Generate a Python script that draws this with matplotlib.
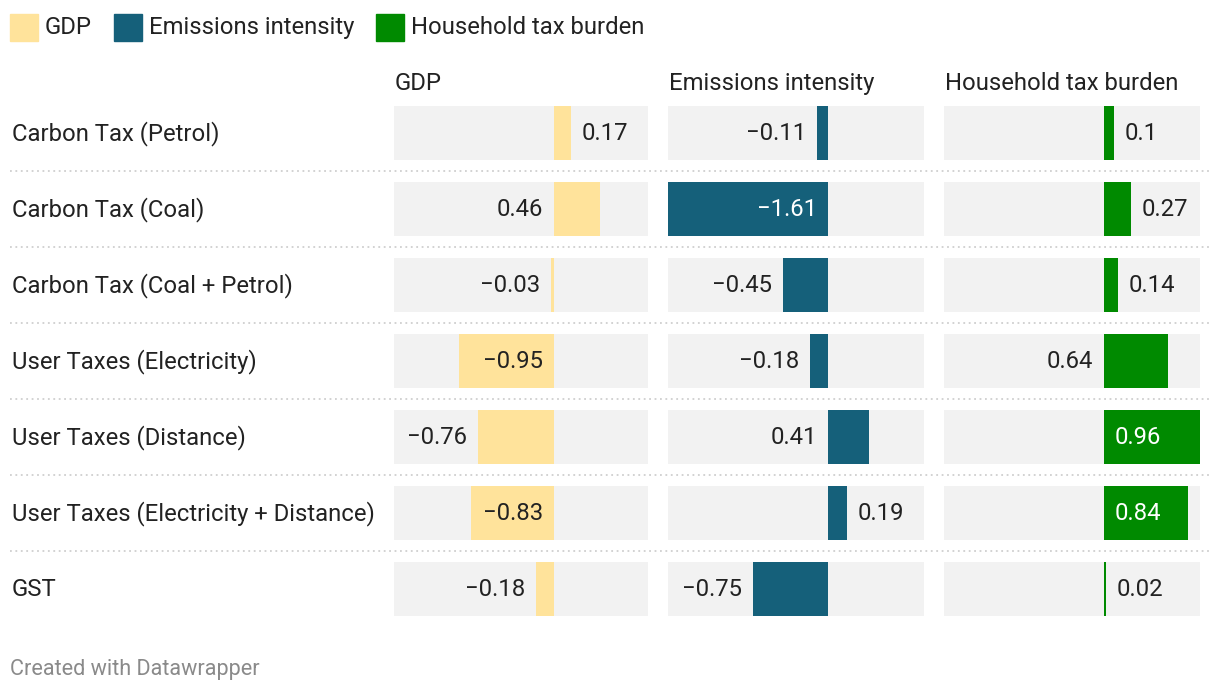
import matplotlib
matplotlib.use('Agg')
import matplotlib.pyplot as plt
from matplotlib.patches import Rectangle

categories = ["Carbon Tax (Petrol)", "Carbon Tax (Coal)", "Carbon Tax (Coal + Petrol)",
              "User Taxes (Electricity)", "User Taxes (Distance)",
              "User Taxes (Electricity + Distance)", "GST"]
series_names = ["GDP", "Emissions intensity", "Household tax burden"]
gdp = [0.17, 0.46, -0.03, -0.95, -0.76, -0.83, -0.18]
emissions = [-0.11, -1.61, -0.45, -0.18, 0.41, 0.19, -0.75]
household = [0.1, 0.27, 0.14, 0.64, 0.96, 0.84, 0.02]
series = [gdp, emissions, household]

colors = ['#FFE39B', '#15607A', '#008A00']
inside_text = ['#222222', '#ffffff', '#ffffff']
TEXT = '#222222'
BG = '#f2f2f2'
FONT = 'Roboto'
FS = 17.2

W, H = 1220, 694
fig = plt.figure(figsize=(W / 100, H / 100), dpi=100)
plt.rcParams['font.family'] = [FONT, 'DejaVu Sans']

def fx(px):
    return px / W

def fy(py):
    return 1 - py / H

top, bottom = 106, 616
pitch = 76
n = len(categories)
bar_h = 54 / pitch
base_off = 7 / pitch          # baseline offset below row centre
xmin = -1.60
ppu = 100.0                    # pixels per unit
panel_left = [394, 668, 944]
panel_w = [254, 256, 256]
ylim = (n - 1 + bar_h / 2, -bar_h / 2)

renderer = fig.canvas.get_renderer()

def text_w(s, fs=FS):
    t = fig.text(0, 0, s, fontsize=fs)
    w = t.get_window_extent(renderer).width
    t.remove()
    return w

# overlay axes for separators and row labels
ax0 = fig.add_axes([fx(10), fy(bottom), fx(1200), (bottom - top) / H])
ax0.set_xlim(0, 1200)
ax0.set_ylim(*ylim)
ax0.axis('off')
for i in range(n - 1):
    ax0.plot([0, 1200], [i + 0.5, i + 0.5], color='#cfcfcf', lw=1.3,
             linestyle=(0, (1, 2)), solid_capstyle='butt')
for i, c in enumerate(categories):
    ax0.text(2, i + base_off, c, fontsize=FS, color=TEXT, va='baseline', ha='left')

def fmt(v):
    s = f"{abs(v):g}"
    return ("\u2212" + s) if v < 0 else s

pad = 11
gap = 11
for k, (vals, name) in enumerate(zip(series, series_names)):
    xmax = xmin + panel_w[k] / ppu
    ax = fig.add_axes([fx(panel_left[k]), fy(bottom), panel_w[k] / W, (bottom - top) / H])
    ax.set_xlim(xmin, xmax)
    ax.set_ylim(*ylim)
    ax.axis('off')
    ys = list(range(n))
    ax.barh(ys, [xmax - xmin] * n, left=xmin, height=bar_h, color=BG, lw=0)
    ax.barh(ys, vals, height=bar_h, color=colors[k], lw=0)
    fig.text(fx(panel_left[k] + 1), fy(90), name, fontsize=FS, color=TEXT,
             va='baseline', ha='left')
    for i, v in enumerate(vals):
        s = fmt(v)
        w = text_w(s)
        L = abs(v) * ppu
        col = TEXT
        if L >= w + 2 * pad:
            col = inside_text[k]
            if v < 0:
                x, ha = -pad / ppu, 'right'
            else:
                x, ha = pad / ppu, 'left'
        elif v >= 0 and (v * ppu + gap + w) <= xmax * ppu:
            x, ha = v + gap / ppu, 'left'
        elif v < 0 and (v * ppu - gap - w) >= xmin * ppu:
            x, ha = v - gap / ppu, 'right'
        elif v >= 0:
            x, ha = -gap / ppu, 'right'
        else:
            x, ha = gap / ppu, 'left'
        ax.text(x, i + base_off, s, fontsize=FS, color=col, va='baseline', ha=ha)

# legend
lx = 10
for name, c in zip(series_names, colors):
    fig.patches.append(Rectangle((fx(lx), fy(41)), 28 / W, 27 / H, color=c,
                                 transform=fig.transFigure, figure=fig))
    fig.text(fx(lx + 35), fy(34), name, fontsize=FS, color=TEXT, va='baseline', ha='left')
    lx = lx + 35 + text_w(name) + 22

fig.text(fx(10), fy(675), "Created with Datawrapper", fontsize=15.6, color='#8a8a8a',
         va='baseline', ha='left')

fig.savefig('out.png', dpi=100, facecolor='white')
